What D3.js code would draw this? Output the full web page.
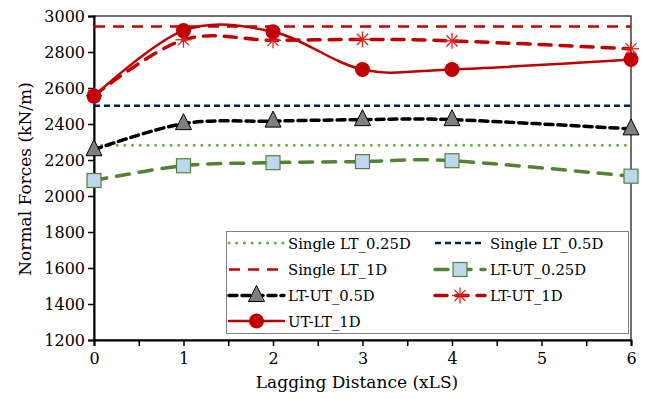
<!DOCTYPE html>
<html><head><meta charset="utf-8">
<script src="https://cdn.jsdelivr.net/npm/d3@7"></script>
<style>body{margin:0;background:#fff}svg{display:block}</style>
</head><body><svg id="c" width="646" height="399"></svg>
<script>
const xValues = [0, 1, 2, 3, 4, 6];
const singleLT025 = 2282;
const singleLT05 = 2502;
const singleLT1 = 2942;
const ltut025 = [2086, 2168, 2185, 2191, 2196, 2110];
const ltut05 = [2257, 2402, 2416, 2424, 2424, 2373];
const ltut1 = [2558, 2868, 2865, 2870, 2862, 2818];
const utlt1 = [2555, 2919, 2913, 2703, 2703, 2758];
const yTicks = [1200, 1400, 1600, 1800, 2000, 2200, 2400, 2600, 2800, 3000];
const xTicks = [0, 1, 2, 3, 4, 5, 6];

const FONT = "'DejaVu Serif', serif";
const svg = d3.select("#c").style("font-family", FONT);
const L = 94, R = 631, T = 16, B = 340;
const x = d3.scaleLinear().domain([0, 6]).range([L, R]);
const y = d3.scaleLinear().domain([1200, 3000]).range([B, T]);

svg.append("rect").attr("x", L).attr("y", T).attr("width", R - L).attr("height", B - T)
  .attr("fill", "none").attr("stroke", "#404040").attr("stroke-width", 1.5);

const yAxis = svg.append("g").attr("transform", `translate(${L},0)`)
  .call(d3.axisLeft(y).tickValues(yTicks).tickSize(6).tickPadding(3).tickFormat(d3.format("d")));
const xAxis = svg.append("g").attr("transform", `translate(0,${B})`)
  .call(d3.axisBottom(x).tickValues(d3.range(0, 6.01, 0.5)).tickSize(6).tickPadding(7)
    .tickFormat(d => xTicks.includes(d) ? d : ""));
[yAxis, xAxis].forEach(g => {
  g.attr("font-family", null).attr("font-size", null);
  g.selectAll("path").attr("stroke", "#000").attr("stroke-width", 2);
  g.selectAll("line").attr("stroke", "#000").attr("stroke-width", 1.5);
  g.selectAll("text").attr("fill", "#000").style("font-family", FONT).style("font-size", "16px");
});

svg.append("text").attr("x", 357).attr("y", 388).attr("text-anchor", "middle")
  .style("font-family", FONT).style("font-size", "17px").text("Lagging Distance (xLS)");
svg.append("text").attr("transform", "translate(31,179) rotate(-90)").attr("text-anchor", "middle")
  .style("font-family", FONT).style("font-size", "17px").text("Normal Forces (kN/m)");

const series = [
  {name: "Single LT_0.25D", flat: singleLT025, color: "#70ad47", width: 3, dash: "0.1,7.6", cap: "round"},
  {name: "Single LT_0.5D", flat: singleLT05, color: "#002060", width: 2.5, dash: "6,4", cap: "butt"},
  {name: "Single LT_1D", flat: singleLT1, color: "#c00000", width: 2.5, dash: "11,8", cap: "butt"},
  {name: "LT-UT_0.25D", data: ltut025, color: "#548235", width: 3.5, dash: "13,10", cap: "round", marker: "square"},
  {name: "LT-UT_0.5D", data: ltut05, color: "#000", width: 3.5, dash: "8,5", cap: "round", marker: "triangle"},
  {name: "LT-UT_1D", data: ltut1, color: "#c00000", width: 3.5, dash: "12,9", cap: "round", marker: "star"},
  {name: "UT-LT_1D", data: utlt1, color: "#c00000", width: 2.5, dash: null, cap: "round", marker: "circle"}
];

const line = d3.line().x(d => x(d[0])).y(d => y(d[1])).curve(d3.curveCardinal.tension(0));
const flatLine = d3.line().x(d => x(d[0])).y(d => y(d[1]));

function drawMarker(g, type, cx, cy) {
  if (type === "square") {
    g.append("rect").attr("x", cx - 7).attr("y", cy - 7).attr("width", 14).attr("height", 14)
      .attr("fill", "#bdd7ee").attr("stroke", "#548235").attr("stroke-width", 1.2);
  } else if (type === "triangle") {
    g.append("path").attr("d", `M${cx},${cy - 10}L${cx + 8},${cy + 6}L${cx - 8},${cy + 6}Z`)
      .attr("fill", "#7f7f7f").attr("stroke", "#000").attr("stroke-width", 1);
  } else if (type === "star") {
    const s = 8, gg = g.append("g").attr("stroke", "#e02020").attr("stroke-width", 1.3);
    gg.append("line").attr("x1", cx - s).attr("y1", cy).attr("x2", cx + s).attr("y2", cy);
    gg.append("line").attr("x1", cx).attr("y1", cy - s).attr("x2", cx).attr("y2", cy + s);
    gg.append("line").attr("x1", cx - s * 0.7).attr("y1", cy - s * 0.7).attr("x2", cx + s * 0.7).attr("y2", cy + s * 0.7);
    gg.append("line").attr("x1", cx - s * 0.7).attr("y1", cy + s * 0.7).attr("x2", cx + s * 0.7).attr("y2", cy - s * 0.7);
  } else if (type === "circle") {
    g.append("circle").attr("cx", cx).attr("cy", cy).attr("r", 7.5).attr("fill", "#c00000");
  }
}

const plot = svg.append("g");
series.forEach(s => {
  const isFlat = s.flat !== undefined;
  const pts = isFlat ? [[0, s.flat], [6, s.flat]] : xValues.map((v, i) => [v, s.data[i]]);
  plot.append("path").attr("d", isFlat ? flatLine(pts) : line(pts))
    .attr("fill", "none").attr("stroke", s.color).attr("stroke-width", s.width)
    .attr("stroke-dasharray", s.dash).attr("stroke-linecap", s.cap);
});
series.forEach(s => {
  if (!s.marker) return;
  const g = plot.append("g");
  xValues.forEach((v, i) => drawMarker(g, s.marker, x(v), y(s.data[i])));
});

const lg = svg.append("g");
lg.append("rect").attr("x", 226.5).attr("y", 231.5).attr("width", 402).attr("height", 102)
  .attr("fill", "#fff").attr("stroke", "#7f7f7f").attr("stroke-width", 1);
const rowsY = [243, 269.5, 295.5, 321];
series.forEach((s, i) => {
  const col = i % 2, row = Math.floor(i / 2);
  const x0 = col === 0 ? 229 : 435, x1 = col === 0 ? 284 : 485;
  const cy = rowsY[row];
  lg.append("line").attr("x1", x0).attr("x2", x1).attr("y1", cy).attr("y2", cy)
    .attr("stroke", s.color).attr("stroke-width", s.width).attr("stroke-dasharray", s.dash)
    .attr("stroke-linecap", s.cap);
  if (s.marker) drawMarker(lg, s.marker, (x0 + x1) / 2, cy);
  lg.append("text").attr("x", col === 0 ? 288 : 490).attr("y", cy + 5.5)
    .style("font-family", FONT).style("font-size", "14.8px").text(s.name);
});
</script></body></html>
